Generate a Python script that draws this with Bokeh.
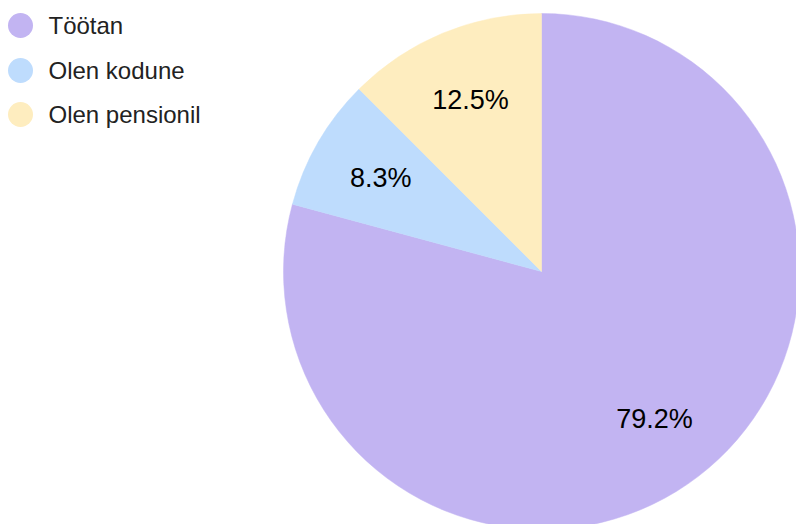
import math
from bokeh.plotting import figure
from bokeh.models import Range1d, ColumnDataSource
from bokeh.core.properties import value
from bokeh.embed import file_html
from bokeh.resources import INLINE

categories = ["Töötan", "Olen kodune", "Olen pensionil"]
percents = [79.2, 8.3, 12.5]
labels = ["79.2%", "8.3%", "12.5%"]
colors = ["#c2b4f2", "#bedcfd", "#feedbf"]

W, H = 796, 524
CX, CY, R = 541, H - 271, 258
LABEL_R = 0.72

total = sum(percents)
starts, ends, lx, ly = [], [], [], []
cum = 0.0
for v in percents:
    s = cum / total
    e = (cum + v) / total
    cum += v
    starts.append(math.pi / 2 - 2 * math.pi * e)
    ends.append(math.pi / 2 - 2 * math.pi * s)
    mid = math.pi / 2 - 2 * math.pi * (s + e) / 2
    lx.append(CX + LABEL_R * R * math.cos(mid))
    ly.append(CY + LABEL_R * R * math.sin(mid))

src = ColumnDataSource(dict(start=starts, end=ends, color=colors, lx=lx, ly=ly, label=labels))

p = figure(width=W, height=H, x_range=Range1d(0, W), y_range=Range1d(0, H),
           output_backend="svg", toolbar_location=None, min_border=0)
p.axis.visible = False
p.grid.visible = False
p.outline_line_color = None
p.background_fill_color = "white"
p.border_fill_color = "white"

p.wedge(x=CX, y=CY, radius=R, start_angle="start", end_angle="end",
        fill_color="color", line_color="color", line_width=0.5, source=src)

p.text(x="lx", y="ly", text="label", source=src, text_align="center",
       text_baseline="middle", text_font=value("Liberation Sans"),
       text_font_size="27px", text_color="#000000")

leg_y = [H - 25, H - 70, H - 114]
leg_src = ColumnDataSource(dict(y=leg_y, name=categories, color=colors))
p.scatter(x=20, y="y", size=25, marker="circle", fill_color="color",
          line_color=None, source=leg_src)
p.text(x=48, y="y", text="name", source=leg_src, text_align="left",
       text_baseline="middle", text_font=value("Liberation Sans"),
       text_font_size="24px", text_color="#222222")

open("out.html", "w").write(file_html(p, INLINE))
